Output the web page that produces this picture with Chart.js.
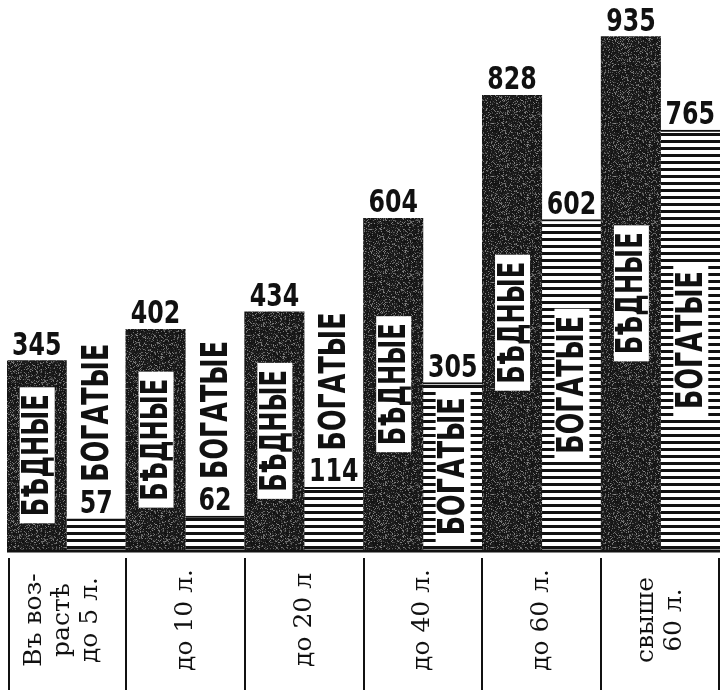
<!DOCTYPE html>
<html>
<head>
<meta charset="utf-8">
<script src="https://cdn.jsdelivr.net/npm/chart.js@4.4.1/dist/chart.umd.min.js"></script>
<style>
  html, body { margin: 0; padding: 0; background: #fff; }
  #wrap { width: 720px; height: 690px; }
</style>
</head>
<body>
<div id="wrap"><canvas id="myChart" width="720" height="690"></canvas></div>
<script>
let ageGroups = [
    ["Въ воз-", "растѣ", "до 5 л."],
    ["до 10 л."],
    ["до 20 л"],
    ["до 40 л."],
    ["до 60 л."],
    ["свыше", "60 л."]
];
let poorValues = [345, 402, 434, 604, 828, 935];
let richValues = [57, 62, 114, 305, 602, 765];
let seriesNames = ["БѢДНЫЕ", "БОГАТЫЕ"];
let yMax = 1000;

// dark grainy fill for the poor bars (fixed hash, no randomness)
function makeGrain() {
    const c = document.createElement('canvas');
    c.width = 61; c.height = 53;
    const g = c.getContext('2d');
    const img = g.createImageData(c.width, c.height);
    for (let y = 0; y < c.height; y++) {
        for (let x = 0; x < c.width; x++) {
            let h = Math.sin(x * 12.9898 + y * 78.233) * 43758.5453;
            h = h - Math.floor(h);
            let v = h > 0.78 ? 60 + (h - 0.78) * 350 : 15 + h * 25;
            const k = (y * c.width + x) * 4;
            img.data[k] = v; img.data[k + 1] = v; img.data[k + 2] = v; img.data[k + 3] = 255;
        }
    }
    g.putImageData(img, 0, 0);
    return g.createPattern(c, 'repeat');
}

// horizontal stripes for the rich bars
function makeStripes() {
    const c = document.createElement('canvas');
    c.width = 8; c.height = 7;
    const g = c.getContext('2d');
    g.fillStyle = '#fff';
    g.fillRect(0, 0, 8, 7);
    g.fillStyle = '#111';
    g.fillRect(0, 0, 8, 3);
    return g.createPattern(c, 'repeat');
}

function drawWord(ctx, cx, cy, text, len, boxed) {
    ctx.save();
    ctx.translate(cx, cy);
    ctx.rotate(-Math.PI / 2);
    ctx.font = 'bold 37px "DejaVu Sans Condensed", "DejaVu Sans", sans-serif';
    const w = ctx.measureText(text).width;
    if (boxed) {
        ctx.fillStyle = '#fff';
        ctx.fillRect(-len / 2 - 7, -17, len + 14, 35);
    }
    ctx.scale(len / w, 1);
    ctx.fillStyle = '#111';
    ctx.textAlign = 'center';
    ctx.textBaseline = 'middle';
    ctx.fillText(text, 0, 2);
    ctx.restore();
}

function drawValue(ctx, cx, top, value) {
    const text = String(value);
    ctx.save();
    ctx.font = 'bold 32px "DejaVu Sans Condensed", "DejaVu Sans", sans-serif';
    const w = ctx.measureText(text).width;
    const target = text.length * 16.5;
    ctx.translate(cx, top - 6);
    ctx.scale(target / w, 1);
    ctx.fillStyle = '#111';
    ctx.textAlign = 'center';
    ctx.textBaseline = 'alphabetic';
    ctx.fillText(text, 0, 0);
    ctx.restore();
    return top - 6 - 23;
}

const labelsPlugin = {
    id: 'labels',
    afterDatasetsDraw(chart) {
        const ctx = chart.ctx;
        const area = chart.chartArea;
        const poorBars = chart.getDatasetMeta(0).data;
        const richBars = chart.getDatasetMeta(1).data;

        // base line under the bars
        ctx.save();
        ctx.strokeStyle = '#111';
        ctx.lineWidth = 3;
        ctx.beginPath();
        ctx.moveTo(area.left, area.bottom + 1);
        ctx.lineTo(area.right, area.bottom + 1);
        ctx.stroke();
        ctx.restore();

        poorBars.forEach((bar, i) => {
            drawValue(ctx, bar.x, bar.y, poorValues[i]);
            drawWord(ctx, bar.x, (bar.y + bar.base) / 2, seriesNames[0], 122, true);
        });

        richBars.forEach((bar, i) => {
            const numTop = drawValue(ctx, bar.x, bar.y, richValues[i]);
            if (bar.base - bar.y > 150) {
                drawWord(ctx, bar.x, (bar.y + bar.base) / 2, seriesNames[1], 138, true);
            } else {
                drawWord(ctx, bar.x, numTop - 8 - 69, seriesNames[1], 138, false);
            }
        });

        // table of age groups under the chart
        const n = ageGroups.length;
        const groupW = area.width / n;
        ctx.save();
        ctx.strokeStyle = '#111';
        ctx.lineWidth = 2;
        for (let i = 0; i <= n; i++) {
            let x = Math.round(area.left + i * groupW);
            if (i === n) x = area.right - 1;
            if (i === 0) x = area.left + 2;
            ctx.beginPath();
            ctx.moveTo(x, area.bottom + 8);
            ctx.lineTo(x, 690);
            ctx.stroke();
        }
        ctx.fillStyle = '#111';
        ctx.font = '25px "DejaVu Serif", "Liberation Serif", serif';
        ctx.textAlign = 'center';
        ctx.textBaseline = 'middle';
        const pitch = 28;
        ageGroups.forEach((lines, i) => {
            const cx = area.left + (i + 0.5) * groupW - (lines.length > 2 ? 4 : 0);
            lines.forEach((line, j) => {
                const x = cx + (j - (lines.length - 1) / 2) * pitch;
                ctx.save();
                ctx.translate(x, 620);
                ctx.rotate(-Math.PI / 2);
                ctx.fillText(line, 0, 0);
                ctx.restore();
            });
        });
        ctx.restore();
    }
};

window.addEventListener("DOMContentLoaded", () => {
    const ctx = document.getElementById('myChart');
    new Chart(ctx, {
        type: 'bar',
        data: {
            labels: ageGroups,
            datasets: [{
                label: seriesNames[0],
                data: poorValues,
                backgroundColor: makeGrain(),
                borderWidth: 0
            }, {
                label: seriesNames[1],
                data: richValues,
                backgroundColor: makeStripes(),
                borderColor: '#111',
                borderWidth: { top: 2, left: 0, right: 0, bottom: 0 },
                borderSkipped: 'bottom'
            }]
        },
        options: {
            responsive: false,
            animation: false,
            layout: { padding: { left: 7, right: 0, top: 1, bottom: 140 } },
            datasets: { bar: { categoryPercentage: 1, barPercentage: 1 } },
            plugins: {
                legend: { display: false },
                tooltip: { enabled: false }
            },
            scales: {
                x: { display: false },
                y: { display: false, min: 0, max: yMax }
            }
        },
        plugins: [labelsPlugin]
    });
});
</script>
</body>
</html>
